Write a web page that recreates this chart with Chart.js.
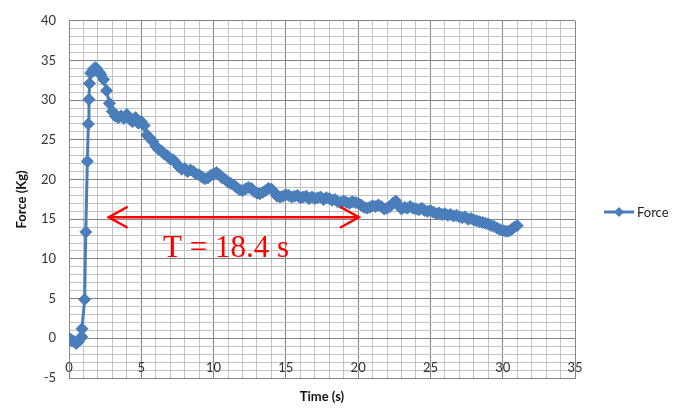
<!DOCTYPE html>
<html><head><meta charset="utf-8">
<script src="https://cdn.jsdelivr.net/npm/chart.js@4.4.0/dist/chart.umd.min.js"></script>
<style>html,body{margin:0;padding:0;background:#fff;}#wrap{width:677px;height:408px;position:relative;}</style>
</head><body><div id="wrap"><canvas id="c" width="677" height="408"></canvas></div>
<script>
// ---- data ----
const timeS = [
 0.00,0.10,0.20,0.35,0.50,0.65,0.80,0.88,0.90,1.08,1.16,1.27,1.34,1.38,1.42,1.50,1.60,1.70,1.80,1.90,2.00,2.10,2.20,
 2.4,2.6,2.8,3.0,3.2,3.4,3.6,3.8,4.0,4.2,4.4,4.6,4.8,5.0,5.2,5.4,5.6,5.8,6.0,6.2,6.4,6.6,6.8,7.0,7.2,7.4,7.6,7.8,
 8.0,8.2,8.4,8.6,8.8,9.0,9.2,9.4,9.6,9.8,10.0,10.2,10.4,10.6,10.8,11.0,11.2,11.4,11.6,11.8,12.0,12.2,12.4,12.6,12.8,
 13.0,13.2,13.4,13.6,13.8,14.0,14.2,14.4,14.6,14.8,15.0,15.2,15.4,15.6,15.8,16.0,16.2,16.4,16.6,16.8,17.0,17.2,17.4,17.6,17.8,
 18.0,18.2,18.4,18.6,18.8,19.0,19.2,19.4,19.6,19.8,20.0,20.2,20.4,20.6,20.8,21.0,21.2,21.4,21.6,21.8,22.0,22.2,22.4,22.6,22.8,
 23.0,23.2,23.4,23.6,23.8,24.0,24.2,24.4,24.6,24.8,25.0,25.2,25.4,25.6,25.8,26.0,26.2,26.4,26.6,26.8,27.0,27.2,27.4,27.6,27.8,
 28.0,28.2,28.4,28.6,28.8,29.0,29.2,29.4,29.6,29.8,30.0,30.2,30.4,30.6,30.8,31.0
];
const forceKg = [
 0.0,-0.1,-0.3,-0.4,-0.65,-0.4,0.0,0.2,1.2,4.9,13.4,22.3,27.0,30.1,32.1,33.4,33.6,33.9,34.1,34.0,33.7,33.5,33.2,
 32.6,31.2,29.6,28.6,28.0,27.8,28.0,27.7,28.2,27.6,27.3,27.8,27.1,27.3,26.8,25.6,25.2,24.8,24.2,23.8,23.6,23.2,23.0,22.6,22.5,22.1,21.6,21.3,
 21.4,21.0,21.2,21.0,20.7,20.6,20.3,20.1,20.2,20.5,20.7,20.9,20.6,20.2,20.0,19.7,19.5,19.3,19.0,18.7,18.6,18.8,19.0,18.9,18.5,
 18.3,18.2,18.4,18.6,18.9,18.8,18.4,17.9,17.8,17.9,18.1,18.0,17.8,17.9,18.0,17.7,17.8,17.9,17.6,17.8,17.6,17.7,17.8,17.5,17.7,
 17.6,17.4,17.5,17.2,17.1,17.3,17.1,17.0,17.2,17.1,17.0,16.8,16.5,16.4,16.5,16.7,16.6,16.8,16.6,16.3,16.4,16.6,17.0,17.3,16.7,
 16.3,16.5,16.4,16.6,16.4,16.3,16.2,16.4,16.1,16.0,16.1,15.9,15.7,15.8,15.6,15.7,15.5,15.6,15.4,15.5,15.3,15.2,15.3,15.0,15.1,
 14.9,14.8,14.7,14.6,14.5,14.4,14.2,14.1,13.9,13.7,13.6,13.5,13.5,13.7,14.0,14.2
];
const xTickLabels = [0,5,10,15,20,25,30,35];
const yTickLabels = [-5,0,5,10,15,20,25,30,35,40];
const seriesName = 'Force';
const xTitle = 'Time (s)';
const yTitle = 'Force (Kg)';
const noteText = 'T = 18.4 s';
const arrowStart = [2.75, 15.25];
const arrowEnd = [20.05, 15.25];
const noteAnchor = [6.5, 10.2];

const BLUE = '#4A7EBB';
const points = timeS.map((t, i) => ({x: t, y: forceKg[i]}));

const annotate = {
  id: 'annotate',
  afterDatasetsDraw(chart) {
    const ctx = chart.ctx, xs = chart.scales.x, ys = chart.scales.y;
    const x1 = xs.getPixelForValue(arrowStart[0]), x2 = xs.getPixelForValue(arrowEnd[0]);
    const y = ys.getPixelForValue(arrowStart[1]);
    ctx.save();
    ctx.strokeStyle = '#FF0000';
    ctx.lineWidth = 2.5;
    ctx.lineCap = 'round';
    ctx.beginPath();
    ctx.moveTo(x1, y); ctx.lineTo(x2, y);
    ctx.moveTo(x1 + 18, y - 10); ctx.lineTo(x1, y); ctx.lineTo(x1 + 18, y + 10);
    ctx.moveTo(x2 - 18, y - 10); ctx.lineTo(x2, y); ctx.lineTo(x2 - 18, y + 10);
    ctx.stroke();
    ctx.fillStyle = '#FF0000';
    ctx.font = '31px "Liberation Serif", serif';
    ctx.textBaseline = 'alphabetic';
    ctx.textAlign = 'left';
    ctx.fillText(noteText, xs.getPixelForValue(noteAnchor[0]), ys.getPixelForValue(noteAnchor[1]));
    ctx.restore();
  },
  afterDraw(chart) {
    const ctx = chart.ctx, a = chart.chartArea;
    const lx = a.right + 29, ly = 212;
    ctx.save();
    ctx.strokeStyle = BLUE; ctx.fillStyle = BLUE; ctx.lineWidth = 3;
    ctx.beginPath(); ctx.moveTo(lx, ly); ctx.lineTo(lx + 30, ly); ctx.stroke();
    ctx.beginPath();
    ctx.moveTo(lx + 15, ly - 5); ctx.lineTo(lx + 20, ly); ctx.lineTo(lx + 15, ly + 5); ctx.lineTo(lx + 10, ly);
    ctx.closePath(); ctx.fill();
    ctx.fillStyle = '#222';
    ctx.font = '13px Lato, sans-serif';
    ctx.textBaseline = 'middle';
    ctx.fillText(seriesName, lx + 33, ly + 1);
    ctx.restore();
  }
};

const isMajor = v => Math.abs(v % 5) < 1e-9;

new Chart(document.getElementById('c'), {
  type: 'scatter',
  data: { datasets: [{
    label: seriesName,
    data: points,
    showLine: true,
    borderColor: BLUE,
    backgroundColor: BLUE,
    borderWidth: 3,
    pointStyle: 'rectRot',
    pointRadius: 6,
    pointBorderWidth: 1,
    pointHoverRadius: 6,
    tension: 0
  }]},
  options: {
    responsive: false,
    animation: false,
    layout: { padding: { top: 13, right: 102, left: 0, bottom: 0 } },
    plugins: { legend: { display: false }, tooltip: { enabled: false } },
    scales: {
      x: {
        type: 'linear', min: 0, max: 35,
        afterFit: s => { s.height = 30; },
        afterBuildTicks: s => { s.ticks = Array.from({length: 36}, (_, i) => ({value: i})); },
        ticks: {
          autoSkip: false, maxRotation: 0, mirror: true, padding: 2, color: '#333',
          font: { family: 'Lato', size: 13 },
          callback: v => xTickLabels.includes(v) ? String(v) : ''
        },
        grid: { drawTicks: false, color: c => isMajor(c.tick.value) ? '#858585' : '#c2c2c2', lineWidth: 1 },
        border: { display: true, color: '#858585' },
        title: { display: true, text: xTitle, color: '#111', font: { family: 'Lato', size: 13, weight: 'bold' }, padding: { top: 0, bottom: 3 } }
      },
      y: {
        type: 'linear', min: -5, max: 40,
        afterFit: s => { s.width = 69; },
        afterBuildTicks: s => { s.ticks = Array.from({length: 46}, (_, i) => ({value: i - 5})); },
        ticks: {
          autoSkip: false, padding: 13, color: '#333',
          font: { family: 'Lato', size: 13 },
          callback: v => yTickLabels.includes(v) ? String(v) : ''
        },
        grid: { drawTicks: false, color: c => isMajor(c.tick.value) ? '#858585' : '#c2c2c2', lineWidth: 1 },
        border: { display: true, color: '#858585' },
        title: { display: true, text: yTitle, color: '#111', font: { family: 'Lato', size: 13, weight: 'bold' }, padding: { top: 14, bottom: 0 } }
      }
    }
  },
  plugins: [annotate]
});
</script></body></html>
